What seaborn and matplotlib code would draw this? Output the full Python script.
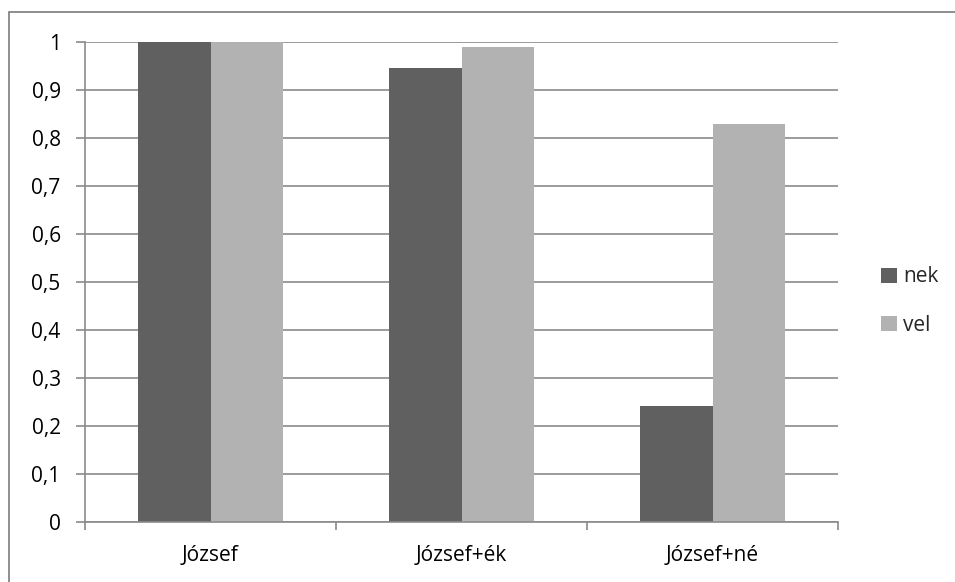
import matplotlib
matplotlib.use("Agg")
import matplotlib.pyplot as plt
from matplotlib.patches import Rectangle
from matplotlib.ticker import FixedLocator, FuncFormatter
import seaborn as sns
import pandas as pd

categories = ["József", "József+ék", "József+né"]
series_names = ["nek", "vel"]
nek_values = [1.0, 0.945, 0.241]
vel_values = [1.0, 0.99, 0.83]
y_ticks = [0, 0.1, 0.2, 0.3, 0.4, 0.5, 0.6, 0.7, 0.8, 0.9, 1.0]

df = pd.DataFrame({
    "category": categories * 2,
    "series": [series_names[0]] * 3 + [series_names[1]] * 3,
    "value": nek_values + vel_values,
})

sns.set_theme(style="white")
plt.rcParams["font.family"] = ["Open Sans", "DejaVu Sans"]

W, H = 955, 582
FS = 15
fig = plt.figure(figsize=(W / 100, H / 100), dpi=100)
ax = fig.add_axes([85 / W, 1 - 521.7 / H, (838 - 85) / W, (521.7 - 42) / H])

palette = {"nek": "#606060", "vel": "#b2b2b2"}
sns.barplot(data=df, x="category", y="value", hue="series", order=categories,
            hue_order=series_names, palette=palette, saturation=1,
            width=0.574, gap=0, ax=ax, legend=True)
for p in ax.patches:
    p.set_edgecolor("none")

grid_c = "#8a8a8a"
ax.set_ylim(0, 1)
ax.set_xlim(-0.5, 2.5)
ax.yaxis.set_major_locator(FixedLocator(y_ticks))
ax.yaxis.set_major_formatter(FuncFormatter(lambda v, _: ("%g" % round(v, 1)).replace(".", ",")))
ax.grid(axis="y", color=grid_c, linewidth=1.2)
ax.set_axisbelow(True)
ax.set_xlabel("")
ax.set_ylabel("")

for side in ["top", "right"]:
    ax.spines[side].set_visible(False)
for side in ["left", "bottom"]:
    ax.spines[side].set_color(grid_c)
    ax.spines[side].set_linewidth(1.2)

ax.tick_params(axis="y", which="major", left=True, length=6.5, width=1.2,
               color=grid_c, pad=11, labelsize=FS, labelcolor="black")
ax.xaxis.set_minor_locator(FixedLocator([-0.5, 0.5, 1.5, 2.5]))
ax.tick_params(axis="x", which="minor", bottom=True, length=6, width=1.2, color=grid_c)
ax.tick_params(axis="x", which="major", bottom=False, length=0, pad=17,
               labelsize=FS, labelcolor="black")

handles, labels = ax.get_legend_handles_labels()
ax.legend(handles, labels, loc="center left", bbox_to_anchor=(871 / W, 1 - 301 / H),
          bbox_transform=fig.transFigure, frameon=False, fontsize=FS,
          handlelength=0.75, handleheight=0.75, handletextpad=0.3,
          labelspacing=1.3, borderpad=0)

# outer chart border
fig.patches.append(Rectangle((9 / W, -0.1), 1.2, 1.1 - 12 / H,
                             transform=fig.transFigure, fill=False,
                             edgecolor="#868686", linewidth=1.3))

fig.savefig("out.png", dpi=100)
